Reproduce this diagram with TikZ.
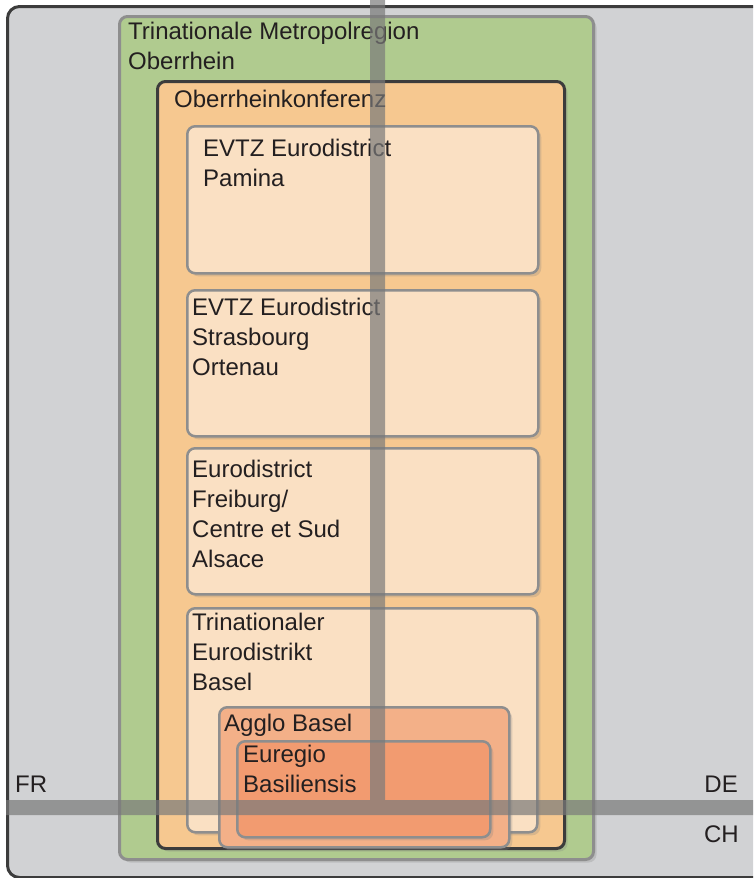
\documentclass[tikz,border=0pt]{standalone}
\usepackage{fontspec}
\setmainfont{Liberation Sans}
\usetikzlibrary{shadows}
\definecolor{bggray}{HTML}{D1D2D4}
\definecolor{greenc}{HTML}{B0CB8F}
\definecolor{orangec}{HTML}{F6C890}
\definecolor{peachc}{HTML}{FAE0C3}
\definecolor{agglc}{HTML}{F3B088}
\definecolor{eurc}{HTML}{F29B70}
\definecolor{darkb}{HTML}{3C3C3C}
\definecolor{grayb}{HTML}{8E8E8E}
\definecolor{textc}{HTML}{231F20}
\definecolor{barc}{HTML}{7A7A7A}
\begin{document}
\begin{tikzpicture}[x=1pt,y=-1pt,
  box/.style={draw=grayb, rectangle, rounded corners=8pt, anchor=north west, inner sep=0pt, line width=2.5pt},
  shad/.style={drop shadow={shadow xshift=3pt, shadow yshift=-3pt, opacity=0.25}},
  lbl/.style={anchor=base west, inner sep=0pt, align=left, font=\fontsize{24}{30}\selectfont, text=textc},
  bar/.style={fill=barc, fill opacity=0.7}
]
\useasboundingbox (0,0) rectangle (753,878);
\clip (0,0) rectangle (753,878);
\node[box, draw=darkb, fill=bggray, line width=3pt, rounded corners=12pt, minimum width=790pt, minimum height=871pt] (land) at (6,5) {};
\node[box, fill=greenc, line width=3pt, shad, minimum width=474pt, minimum height=843pt] (tmo) at (118,15) {};
\node[box, draw=darkb, fill=orangec, line width=3pt, shad, minimum width=407pt, minimum height=767pt] (ork) at (156,80) {};
\node[box, fill=peachc, shad, minimum width=351pt, minimum height=147pt] (pam) at (186,125) {};
\node[box, fill=peachc, shad, minimum width=351pt, minimum height=146pt] (str) at (186,289) {};
\node[box, fill=peachc, shad, minimum width=351pt, minimum height=146pt] (fre) at (186,447) {};
\node[box, fill=peachc, shad, minimum width=350pt, minimum height=224pt] (tri) at (186,607) {};
\node[box, fill=agglc, shad, minimum width=290pt, minimum height=140pt] (agg) at (218,706) {};
\node[box, fill=eurc, shad, minimum width=253pt, minimum height=96pt] (eur) at (236,740) {};

% anchor base = baseline of the last line
\node[lbl] (ttmo) at (128,69) {Trinationale Metropolregion\\Oberrhein};
\node[lbl] (tork) at (174,107) {Oberrheinkonferenz};
\node[lbl] (tpam) at (203,186) {EVTZ Eurodistrict\\Pamina};
\node[lbl] (tstr) at (192,375) {EVTZ Eurodistrict\\Strasbourg\\Ortenau};
\node[lbl] (tfre) at (192,567) {Eurodistrict\\Freiburg/\\Centre et Sud\\Alsace};
\node[lbl] (ttri) at (192,690) {Trinationaler\\Eurodistrikt\\Basel};
\node[lbl] (tagg) at (224,731) {Agglo Basel};
\node[lbl] (teur) at (243,792) {Euregio\\Basiliensis};

\fill[bar] (370,0) rectangle (385,800) (6,800) rectangle (753,815);

\node[lbl] (fr) at (15,792) {FR};
\node[lbl, anchor=base east] (de) at (738,792) {DE};
\node[lbl, anchor=base east] (ch) at (739,842) {CH};
\end{tikzpicture}
\end{document}
